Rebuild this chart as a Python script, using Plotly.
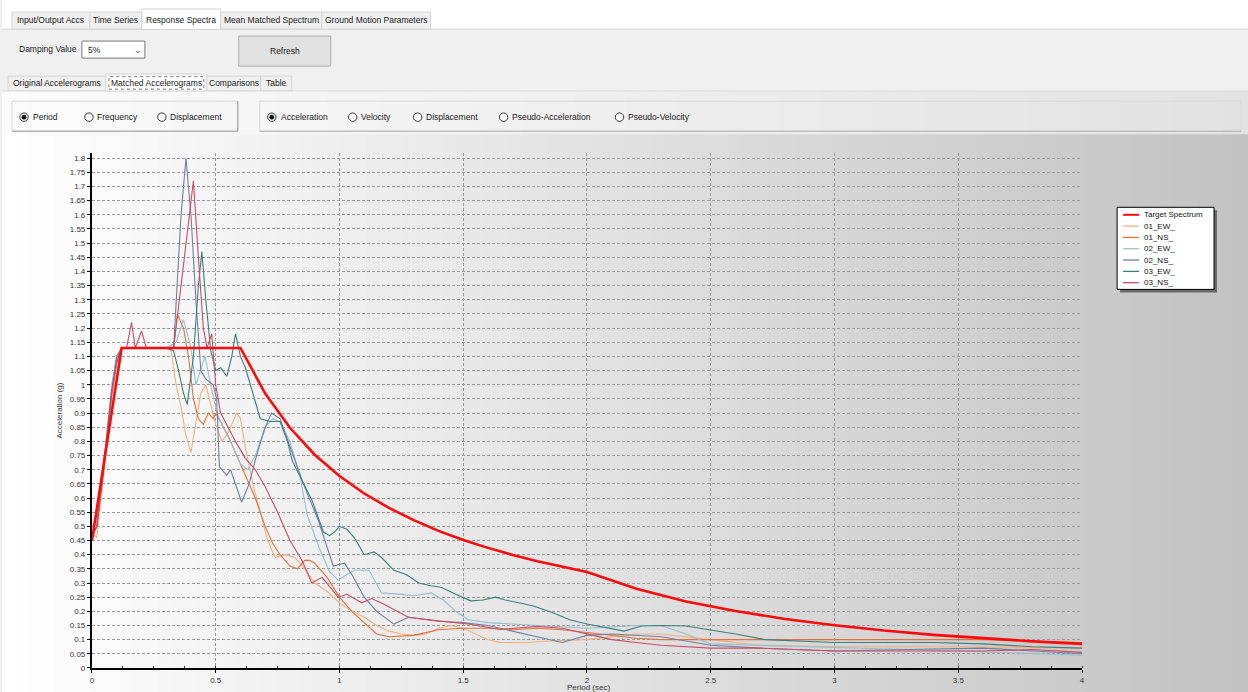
import plotly.graph_objects as go

# ---------------- data ----------------
target_T = [0, 0.12, 0.6, 0.7, 0.8, 0.9, 1.0, 1.1, 1.2, 1.3, 1.4, 1.5, 1.6, 1.7, 1.8, 1.9, 2.0,
            2.2, 2.4, 2.6, 2.8, 3.0, 3.2, 3.4, 3.6, 3.8, 4.0]
target_sa = [0.45, 1.13, 1.13, 0.969, 0.848, 0.753, 0.678, 0.616, 0.565, 0.522, 0.484, 0.452, 0.424,
             0.399, 0.377, 0.357, 0.339, 0.280, 0.235, 0.201, 0.173, 0.151, 0.132, 0.117, 0.105,
             0.094, 0.085]

ew01_T = [0, 0.02, 0.05, 0.08, 0.1, 0.12, 0.2, 0.3, 0.32, 0.34, 0.36, 0.38, 0.4, 0.42, 0.44, 0.46,
          0.48, 0.5, 0.525, 0.55, 0.585, 0.6, 0.62, 0.65, 0.68, 0.71, 0.74, 0.78, 0.82, 0.86, 0.9,
          0.95, 1.0, 1.05, 1.1, 1.15, 1.2, 1.25, 1.3, 1.35, 1.4, 1.45, 1.5, 1.55, 1.6, 1.65, 1.75,
          1.85, 2.0, 2.2, 2.3, 2.5, 2.7, 3.0, 3.5, 4.0]
ew01_sa = [0.48, 0.46, 0.7, 0.95, 1.07, 1.13, 1.13, 1.13, 1.12, 1.0, 0.92, 0.82, 0.76, 0.86, 0.97, 1.0,
           0.93, 0.86, 0.8, 0.83, 0.9, 0.88, 0.78, 0.65, 0.55, 0.45, 0.39, 0.4, 0.39, 0.35, 0.3,
           0.27, 0.23, 0.2, 0.18, 0.15, 0.13, 0.12, 0.115, 0.12, 0.14, 0.15, 0.14, 0.12, 0.1, 0.09, 0.09,
           0.095, 0.1, 0.12, 0.12, 0.1, 0.08, 0.075, 0.075, 0.07]

ns01_T = [0, 0.02, 0.05, 0.08, 0.1, 0.12, 0.3, 0.33, 0.345, 0.37, 0.39, 0.41, 0.43, 0.45, 0.47, 0.49,
          0.5, 0.52, 0.55, 0.58, 0.6, 0.63, 0.66, 0.7, 0.73, 0.76, 0.8, 0.83, 0.86, 0.88, 0.9, 0.95,
          1.0, 1.05, 1.1, 1.15, 1.2, 1.3, 1.4, 1.5, 1.6, 1.7, 1.8, 1.9, 2.0, 2.1, 2.2, 2.3, 2.5, 2.8,
          3.0, 3.3, 3.6, 4.0]
ns01_sa = [0.5, 0.52, 0.72, 0.98, 1.1, 1.13, 1.13, 1.13, 1.25, 1.2, 1.1, 0.95, 0.88, 0.86, 0.9, 0.88,
           0.9, 0.87, 0.82, 0.76, 0.72, 0.66, 0.6, 0.5, 0.44, 0.4, 0.36, 0.35, 0.38, 0.38, 0.37, 0.32,
           0.25, 0.2, 0.16, 0.12, 0.11, 0.115, 0.135, 0.14, 0.14, 0.135, 0.14, 0.135, 0.125, 0.115,
           0.105, 0.1, 0.1, 0.1, 0.1, 0.1, 0.1, 0.09]

ew02_T = [0, 0.02, 0.05, 0.08, 0.1, 0.12, 0.3, 0.34, 0.37, 0.4, 0.42, 0.457, 0.48, 0.505, 0.53, 0.56,
          0.6, 0.63, 0.66, 0.7, 0.73, 0.76, 0.8, 0.84, 0.87, 0.92, 0.96, 0.995, 1.03, 1.06, 1.12,
          1.15, 1.17, 1.25, 1.3, 1.37, 1.42, 1.47, 1.52, 1.6, 1.7, 1.8, 1.9, 2.0, 2.1, 2.2, 2.3, 2.4,
          2.5, 2.7, 3.0, 3.5, 4.0]
ew02_sa = [0.5, 0.52, 0.75, 1.0, 1.1, 1.13, 1.13, 1.15, 1.23, 1.13, 1.0, 1.1, 1.0, 0.9, 0.85, 0.8,
           0.72, 0.7, 0.75, 0.85, 0.88, 0.87, 0.8, 0.68, 0.54, 0.42, 0.34, 0.31, 0.33, 0.345, 0.345,
           0.3, 0.265, 0.26, 0.255, 0.265, 0.24, 0.2, 0.17, 0.16, 0.155, 0.15, 0.145, 0.14, 0.145,
           0.15, 0.15, 0.12, 0.085, 0.08, 0.075, 0.06, 0.045]

ns02_T = [0, 0.02, 0.05, 0.08, 0.1, 0.12, 0.3, 0.33, 0.36, 0.38, 0.4, 0.42, 0.44, 0.46, 0.49, 0.504,
          0.515, 0.545, 0.56, 0.595, 0.605, 0.635, 0.665, 0.7, 0.726, 0.76, 0.8, 0.85, 0.915, 0.975,
          1.02, 1.05, 1.1, 1.15, 1.22, 1.28, 1.4, 1.5, 1.6, 1.7, 1.85, 1.9, 2.0, 2.1, 2.3, 2.5, 2.7,
          3.0, 3.3, 3.6, 4.0]
ns02_sa = [0.47, 0.5, 0.74, 0.98, 1.1, 1.13, 1.13, 1.13, 1.6, 1.8, 1.6, 1.3, 1.05, 1.02, 1.0, 0.95,
           0.71, 0.68, 0.7, 0.61, 0.585, 0.65, 0.75, 0.85, 0.9, 0.88, 0.78, 0.66, 0.52, 0.36,
           0.37, 0.33, 0.25, 0.2, 0.155, 0.18, 0.165, 0.16, 0.15, 0.13, 0.1, 0.09, 0.115, 0.12, 0.11,
           0.08, 0.07, 0.06, 0.065, 0.07, 0.05]

ew03_T = [0, 0.02, 0.05, 0.08, 0.1, 0.12, 0.3, 0.33, 0.35, 0.37, 0.385, 0.41, 0.43, 0.444, 0.46,
          0.48, 0.5, 0.52, 0.545, 0.565, 0.58, 0.6, 0.62, 0.65, 0.68, 0.72, 0.76, 0.79, 0.81, 0.85,
          0.89, 0.935, 0.96, 0.98, 1.0, 1.03, 1.06, 1.1, 1.14, 1.17, 1.22, 1.27, 1.32, 1.37, 1.41,
          1.47, 1.53, 1.58, 1.63, 1.67, 1.71, 1.78, 1.86, 1.93, 2.0, 2.1, 2.15, 2.22, 2.3, 2.4, 2.5,
          2.6, 2.72, 2.9, 3.0, 3.2, 3.4, 3.6, 3.8, 4.0]
ew03_sa = [0.46, 0.5, 0.72, 0.97, 1.08, 1.13, 1.13, 1.12, 1.05, 0.97, 0.93, 1.1, 1.35, 1.47, 1.3,
           1.12, 1.05, 1.06, 1.03, 1.1, 1.18, 1.1, 1.06, 0.97, 0.88, 0.87, 0.87, 0.8, 0.73, 0.66,
           0.59, 0.48, 0.467, 0.48, 0.5, 0.49, 0.46, 0.4, 0.41, 0.39, 0.345, 0.33, 0.3, 0.29, 0.285,
           0.26, 0.237, 0.24, 0.25, 0.24, 0.232, 0.22, 0.196, 0.17, 0.155, 0.14, 0.13, 0.148, 0.15,
           0.148, 0.135, 0.12, 0.1, 0.095, 0.09, 0.09, 0.09, 0.085, 0.075, 0.07]

ns03_T = [0, 0.02, 0.05, 0.08, 0.1, 0.12, 0.14, 0.16, 0.175, 0.2, 0.22, 0.3, 0.33, 0.36, 0.38, 0.395,
          0.41, 0.43, 0.45, 0.465, 0.484, 0.5, 0.52, 0.55, 0.58, 0.62, 0.66, 0.7, 0.75, 0.8, 0.85,
          0.888, 0.93, 0.995, 1.03, 1.09, 1.13, 1.18, 1.28, 1.38, 1.52, 1.65, 1.8, 1.9, 2.0, 2.1,
          2.2, 2.3, 2.5, 2.7, 3.0, 3.3, 3.6, 3.8, 4.0]
ns03_sa = [0.47, 0.5, 0.73, 0.97, 1.08, 1.13, 1.13, 1.22, 1.13, 1.19, 1.13, 1.13, 1.13, 1.35, 1.5,
           1.6, 1.72, 1.45, 1.2, 1.13, 1.18, 1.0, 0.9, 0.85, 0.8, 0.74, 0.7, 0.64, 0.55, 0.45, 0.378,
           0.3, 0.32, 0.25, 0.26, 0.23, 0.245, 0.225, 0.178, 0.168, 0.155, 0.136, 0.147, 0.14, 0.12,
           0.1, 0.09, 0.08, 0.07, 0.07, 0.06, 0.06, 0.06, 0.065, 0.055]

series_names = ["01_EW_", "01_NS_", "02_EW_", "02_NS_", "03_EW_", "03_NS_"]
series_T = [ew01_T, ns01_T, ew02_T, ns02_T, ew03_T, ns03_T]
series_sa = [ew01_sa, ns01_sa, ew02_sa, ns02_sa, ew03_sa, ns03_sa]
series_colors = ["#f3b07c", "#e46f3a", "#97bfcf", "#6e7fa3", "#37807c", "#cf4a62"]
target_name = "Target Spectrum"
target_color = "#ff0a0a"

x_tick_labels = ["0", "0.5", "1", "1.5", "2", "2.5", "3", "3.5", "4"]
y_tick_labels = ["0", "0.05", "0.1", "0.15", "0.2", "0.25", "0.3", "0.35", "0.4", "0.45", "0.5",
                 "0.55", "0.6", "0.65", "0.7", "0.75", "0.8", "0.85", "0.9", "0.95", "1", "1.05",
                 "1.1", "1.15", "1.2", "1.25", "1.3", "1.35", "1.4", "1.45", "1.5", "1.55", "1.6",
                 "1.65", "1.7", "1.75", "1.8"]

top_tabs = ["Input/Output Accs", "Time Series", "Response Spectra", "Mean Matched Spectrum",
            "Ground Motion Parameters"]
sub_tabs = ["Original Accelerograms", "Matched Accelerograms", "Comparisons", "Table"]
radio_group1 = ["Period", "Frequency", "Displacement"]
radio_group2 = ["Acceleration", "Velocity", "Displacement", "Pseudo-Acceleration", "Pseudo-Velocity"]

# ---------------- page geometry (coordinates given in reference pixels) ----------------
W, H = 1248, 692          # reference pixel space
FIG_W, FIG_H = 1252, 698  # figure size (compensates for the capture scaling)
FONT = "Liberation Sans, Arial, sans-serif"


def px(x):
    return x / W


def py(y):
    return 1 - y / H


shapes = []
annotations = []


def rect(x0, y0, x1, y1, fill=None, line=None, lw=1, dash=None, layer="below"):
    d = dict(type="rect", xref="paper", yref="paper", x0=px(x0), x1=px(x1), y0=py(y1), y1=py(y0),
             layer=layer, line=dict(width=lw if line else 0, color=line or "rgba(0,0,0,0)"))
    if dash:
        d["line"]["dash"] = dash
    if fill:
        d["fillcolor"] = fill
    shapes.append(d)


def hline(x0, x1, y, color, lw=1, layer="below"):
    shapes.append(dict(type="line", xref="paper", yref="paper", x0=px(x0), x1=px(x1), y0=py(y), y1=py(y),
                       line=dict(color=color, width=lw), layer=layer))


def vline(x, y0, y1, color, lw=1, layer="below"):
    shapes.append(dict(type="line", xref="paper", yref="paper", x0=px(x), x1=px(x), y0=py(y0), y1=py(y1),
                       line=dict(color=color, width=lw), layer=layer))


def text(x, y, s, size=9, color="#1a1a1a", anchor="left"):
    annotations.append(dict(xref="paper", yref="paper", x=px(x), y=py(y), text=s, showarrow=False,
                            xanchor=anchor, yanchor="middle", font=dict(family=FONT, size=size, color=color)))


def circle(cx, cy, r, fill=None, line="#333333", lw=1, layer="below"):
    d = dict(type="circle", xref="paper", yref="paper", x0=px(cx - r), x1=px(cx + r), y0=py(cy + r),
             y1=py(cy - r), layer=layer, line=dict(color=line, width=lw))
    if fill:
        d["fillcolor"] = fill
    shapes.append(d)


def lerp_hex(c0, c1, t):
    a = [int(c0[i:i + 2], 16) for i in (1, 3, 5)]
    b = [int(c1[i:i + 2], 16) for i in (1, 3, 5)]
    return "#" + "".join("%02x" % round(a[k] + (b[k] - a[k]) * t) for k in range(3))


# top strip + tabs
rect(0, 0, W, 29, fill="#ffffff")
rect(0, 29, W, 75, fill="#f0f0f0")
hline(0, W, 29, "#d4d4d4")
tab_edges = [10, 88, 140, 219, 320, 429]
for i, name in enumerate(top_tabs):
    x0, x1 = tab_edges[i], tab_edges[i + 1]
    if i == 2:
        rect(x0, 9, x1, 29.5, fill="#ffffff", line="#d4d4d4")
    else:
        rect(x0, 12, x1, 29, fill="#f0f0f0", line="#d4d4d4")
    text((x0 + x1) / 2, 19.5, name, size=8.5, anchor="center")

# damping row
text(15, 49, "Damping Value", size=8.5)
rect(80, 41, 143, 58, fill="#ffffff", line="#7a7a7a")
text(84, 49.5, "5%", size=8.5)
text(136, 49.5, "\u2304", size=9, color="#555555", anchor="center")
rect(237, 36, 329, 66, fill="#e1e1e1", line="#adadad")
text(283, 51, "Refresh", size=8.5, anchor="center")

# sub tabs
rect(0, 75, W, 91, fill="#f0f0f0")
sub_edges = [6, 104, 205, 259, 290]
for i, name in enumerate(sub_tabs):
    x0, x1 = sub_edges[i], sub_edges[i + 1]
    if i == 1:
        rect(x0, 74, x1, 91, fill="#ffffff", line="#d4d4d4")
        rect(x0 + 3, 76.5, x1 - 3, 89, line="#555555", lw=0.8, dash="dot")
    else:
        rect(x0, 76, x1, 91, fill="#f0f0f0", line="#d4d4d4")
    text((x0 + x1) / 2, 83, name, size=8.5, anchor="center")
hline(0, W, 91, "#d4d4d4")

# radio panel gradient and chart panel gradient
NB = 96
for i in range(NB):
    x0 = i * W / NB
    x1 = (i + 1) * W / NB + 0.6
    t = (i + 0.5) / NB
    rect(x0, 91.5, x1, 134, fill=lerp_hex("#fbfbfb", "#e2e2e2", t))
    rect(x0, 134, x1, H + 2, fill=lerp_hex("#ffffff", "#c2c2c2", t))

# radio boxes
rect(10, 101, 236, 131, line="#d8d8d8")
vline(236, 101, 131, "#9a9a9a")
hline(10, 236, 131, "#9a9a9a")
rect(258, 101, 1240, 131, line="#d8d8d8")
hline(258, 1240, 131, "#b0b0b0")
g1 = [(22, 29), (87, 93), (160, 166)]
for i, name in enumerate(radio_group1):
    cx, tx = g1[i]
    circle(cx, 117, 4.2, fill="#ffffff", line="#333333")
    if i == 0:
        circle(cx, 117, 2.2, fill="#111111", line="#111111", lw=0.5)
    text(tx, 117, name, size=8.5)
g2 = [(270, 277), (351, 357), (416, 422), (502, 508), (618, 624)]
for i, name in enumerate(radio_group2):
    cx, tx = g2[i]
    circle(cx, 117, 4.2, fill="#ffffff", line="#333333")
    if i == 0:
        circle(cx, 117, 2.2, fill="#111111", line="#111111", lw=0.5)
    text(tx, 117, name, size=8.5)

# ---------------- traces ----------------
fig = go.Figure()
for name, T, sa, col in zip(series_names, series_T, series_sa, series_colors):
    fig.add_trace(go.Scatter(x=T, y=sa, mode="lines", name=name, line=dict(color=col, width=1.1),
                             showlegend=False))
fig.add_trace(go.Scatter(x=target_T, y=target_sa, mode="lines", name=target_name,
                         line=dict(color=target_color, width=2.6), showlegend=False))

# ---------------- legend box (sized like the reference) ----------------
rect(1119, 210, 1216, 292, fill="#6a6a6a", layer="above")
rect(1116, 207, 1213, 289, fill="#ffffff", line="#000000", layer="above")
leg_names = [target_name] + series_names
leg_colors = [target_color] + series_colors
for i, (n, c) in enumerate(zip(leg_names, leg_colors)):
    yy = 214.5 + i * 11.3
    hline(1122, 1138, yy, c, lw=2 if i == 0 else 1.3, layer="above")
    text(1141, yy, n, size=8, color="#111111")

# axis titles
annotations.append(dict(xref="paper", yref="paper", x=px(58), y=py(410), text="Acceleration (g)",
                        textangle=-90, showarrow=False, xanchor="center", yanchor="middle",
                        font=dict(family=FONT, size=8, color="#333333")))
annotations.append(dict(xref="paper", yref="paper", x=px(587), y=py(686.5), text="Period (sec)",
                        showarrow=False, xanchor="center", yanchor="middle",
                        font=dict(family=FONT, size=8, color="#333333")))

grid = dict(showgrid=True, gridcolor="#9a9a9a", gridwidth=1, griddash="3px,2px")
fig.update_layout(
    width=FIG_W, height=FIG_H, margin=dict(l=0, r=0, t=0, b=0),
    paper_bgcolor="#f0f0f0", plot_bgcolor="rgba(0,0,0,0)",
    shapes=shapes, annotations=annotations, showlegend=False,
    xaxis=dict(domain=[px(90), px(1081)], range=[0, 4.0004], tickmode="array",
               tickvals=[float(s) for s in x_tick_labels], ticktext=x_tick_labels,
               showline=True, linecolor="#000000", linewidth=2, ticks="outside", ticklen=3,
               tickcolor="#000000", zeroline=False, tickfont=dict(family=FONT, size=8, color="#333333"),
               ticklabelstandoff=0,
               minor=dict(dtick=0.125, ticks="inside", ticklen=2, tickcolor="#333333", showgrid=False),
               fixedrange=True, **grid),
    yaxis=dict(domain=[1 - 667 / H, 1 - 152.3 / H], range=[0, 1.82], tickmode="array",
               tickvals=[float(s) for s in y_tick_labels], ticktext=y_tick_labels,
               showline=True, linecolor="#000000", linewidth=2, ticks="outside", ticklen=3,
               tickcolor="#000000", zeroline=False, tickfont=dict(family=FONT, size=8, color="#333333"),
               fixedrange=True, **grid),
)
fig.write_html("out.html", config={"displayModeBar": False},
               post_script="document.body.style.margin='0';document.body.style.overflow='hidden';")
